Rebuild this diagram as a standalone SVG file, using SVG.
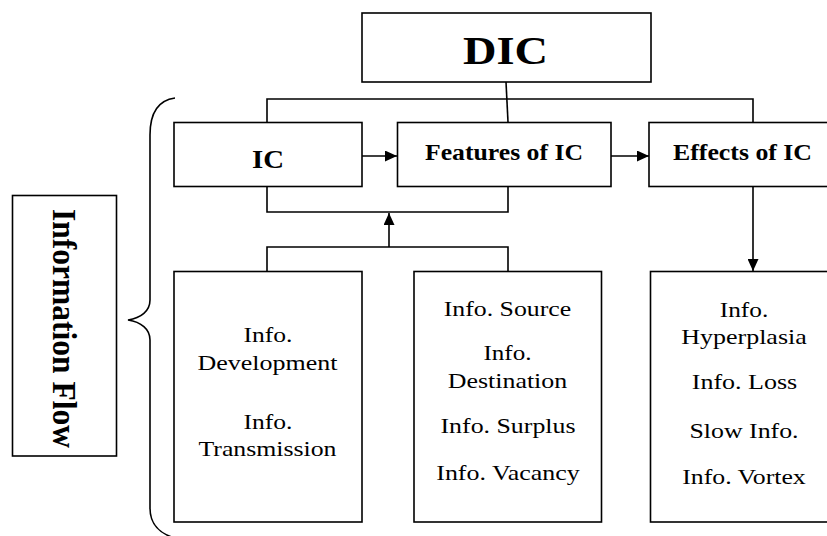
<svg xmlns="http://www.w3.org/2000/svg" width="827" height="536" viewBox="0 0 827 536">
<defs>
<style>
.box{fill:#fff;stroke:#000;stroke-width:1.6}
.ln{fill:none;stroke:#000;stroke-width:1.6}
.t{font-family:"Liberation Serif","Times New Roman",serif;font-size:22px;text-anchor:middle;fill:#000}
.b{font-family:"Liberation Serif","Times New Roman",serif;font-weight:bold;text-anchor:middle;fill:#000}
</style>
<marker id="ah" viewBox="0 0 12 11" refX="12" refY="5.5" markerWidth="12" markerHeight="11" markerUnits="userSpaceOnUse" orient="auto">
<path d="M0,0 L12,5.5 L0,11 Z" fill="#000"/>
</marker>
</defs>
<rect width="827" height="536" fill="#fff"/>

<g id="connectors">
<path class="ln" d="M506,82 L508,122"/>
<path class="ln" d="M267,122 L267,99 L753,99 L753,122"/>
<path class="ln" d="M362,156 L397,156" marker-end="url(#ah)"/>
<path class="ln" d="M611,156 L649,156" marker-end="url(#ah)"/>
<path class="ln" d="M267,186 L267,212 L508,212 L508,186"/>
<path class="ln" d="M267,272 L267,247 L508,247 L508,272"/>
<path class="ln" d="M389,247 L389,213" marker-end="url(#ah)"/>
<path class="ln" d="M753,186 L753,271" marker-end="url(#ah)"/>
<path class="ln" d="M175,98 C160,100 150,110 150,135 L150,300 C150,311 141,318 128,320 C141,322 150,329 150,340 L150,508 C150,524 160,534 175,538"/>
</g>

<g id="dic">
<rect class="box" x="362" y="13" width="289" height="69"/>
<text class="b" x="505.5" y="64" font-size="41" textLength="85" lengthAdjust="spacingAndGlyphs">DIC</text>
</g>

<g id="ic">
<rect class="box" x="174" y="122.5" width="188" height="64"/>
<text class="b" x="268" y="168" font-size="26" textLength="32" lengthAdjust="spacingAndGlyphs">IC</text>
</g>

<g id="features">
<rect class="box" x="397.5" y="122.5" width="213.5" height="64"/>
<text class="b" x="504" y="160" font-size="24" textLength="158" lengthAdjust="spacingAndGlyphs">Features of IC</text>
</g>

<g id="effects">
<rect class="box" x="649" y="122.5" width="185" height="64"/>
<text class="b" x="742.5" y="160" font-size="24" textLength="139" lengthAdjust="spacingAndGlyphs">Effects of IC</text>
</g>

<g id="info-flow">
<rect class="box" x="12.5" y="195.5" width="104" height="260.5"/>
<text class="b" transform="translate(53,328.5) rotate(90)" x="0" y="0" font-size="33" textLength="239" lengthAdjust="spacingAndGlyphs">Information Flow</text>
</g>

<g id="ic-items">
<rect class="box" x="174" y="271.5" width="188" height="250.5"/>
<text class="t" x="268" y="341.5" textLength="49" lengthAdjust="spacingAndGlyphs">Info.</text>
<text class="t" x="267.5" y="370" textLength="140" lengthAdjust="spacingAndGlyphs">Development</text>
<text class="t" x="268" y="428.5" textLength="49" lengthAdjust="spacingAndGlyphs">Info.</text>
<text class="t" x="267.5" y="456" textLength="138" lengthAdjust="spacingAndGlyphs">Transmission</text>
</g>

<g id="feature-items">
<rect class="box" x="414" y="271.5" width="187.5" height="250.5"/>
<text class="t" x="507.5" y="316" textLength="127.5" lengthAdjust="spacingAndGlyphs">Info. Source</text>
<text class="t" x="507.5" y="359.5" textLength="48" lengthAdjust="spacingAndGlyphs">Info.</text>
<text class="t" x="507.5" y="387.5" textLength="119.5" lengthAdjust="spacingAndGlyphs">Destination</text>
<text class="t" x="508" y="432.5" textLength="135" lengthAdjust="spacingAndGlyphs">Info. Surplus</text>
<text class="t" x="508" y="480" textLength="143.5" lengthAdjust="spacingAndGlyphs">Info. Vacancy</text>
</g>

<g id="effect-items">
<rect class="box" x="650.5" y="271.5" width="184" height="250.5"/>
<text class="t" x="744" y="317" textLength="48.5" lengthAdjust="spacingAndGlyphs">Info.</text>
<text class="t" x="744" y="344" textLength="125.5" lengthAdjust="spacingAndGlyphs">Hyperplasia</text>
<text class="t" x="744.5" y="389" textLength="105.5" lengthAdjust="spacingAndGlyphs">Info. Loss</text>
<text class="t" x="744" y="437.5" textLength="109" lengthAdjust="spacingAndGlyphs">Slow Info.</text>
<text class="t" x="744" y="484" textLength="123.5" lengthAdjust="spacingAndGlyphs">Info. Vortex</text>
</g>
</svg>
